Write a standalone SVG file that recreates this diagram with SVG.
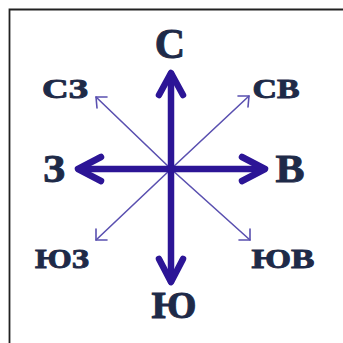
<svg xmlns="http://www.w3.org/2000/svg" width="343" height="343" viewBox="0 0 343 343">
<style>
.thick{stroke:#2c1596;stroke-width:6.5;fill:none;stroke-linecap:round;stroke-linejoin:round}
.thin{stroke:#5a50b0;stroke-width:1.6;fill:none;stroke-linecap:round;stroke-linejoin:round}
.lbl{font-family:"Liberation Serif",serif;font-weight:bold;fill:#1e2a48;stroke:#1e2a48;stroke-width:0.9;text-anchor:middle}
</style>
<rect width="343" height="343" fill="#ffffff"/>
<path d="M9.5 343V9.5H343" fill="none" stroke="#222" stroke-width="1.8"/>
<g id="connectors">
<line class="thin" x1="171" y1="169" x2="96" y2="97"/>
<polyline class="thin" points="97,108 96,97 107,97"/>
<line class="thin" x1="171" y1="169" x2="249" y2="96"/>
<polyline class="thin" points="238,96 249,96 248,107"/>
<line class="thin" x1="171" y1="169" x2="96" y2="240"/>
<polyline class="thin" points="96,229 96,240 107,240"/>
<line class="thin" x1="171" y1="169" x2="250" y2="240"/>
<polyline class="thin" points="250,229 250,240 239,240"/>
<line class="thick" x1="171" y1="169" x2="171" y2="74"/>
<polyline class="thick" points="159,95 171,73 183,95"/>
<line class="thick" x1="171" y1="169" x2="171" y2="281"/>
<polyline class="thick" points="159,259 171,282 183,259"/>
<line class="thick" x1="171" y1="169" x2="79" y2="169"/>
<polyline class="thick" points="101,157 78,169 101,181"/>
<line class="thick" x1="171" y1="169" x2="264" y2="169"/>
<polyline class="thick" points="242,157 265,169 242,181"/>
<circle cx="171" cy="169" r="4" fill="#2c1596"/>
</g>
<g id="n"><text class="lbl" x="170" y="58" font-size="42">С</text></g>
<g id="s"><text class="lbl" x="174" y="318" font-size="38" textLength="45" lengthAdjust="spacingAndGlyphs">Ю</text></g>
<g id="w"><text class="lbl" x="54" y="182" font-size="40" textLength="22" lengthAdjust="spacingAndGlyphs">З</text></g>
<g id="e"><text class="lbl" x="290" y="182" font-size="40" textLength="29" lengthAdjust="spacingAndGlyphs">В</text></g>
<g id="nw"><text class="lbl" x="65" y="98" font-size="27" textLength="46" lengthAdjust="spacingAndGlyphs">СЗ</text></g>
<g id="ne"><text class="lbl" x="276" y="98" font-size="27" textLength="47" lengthAdjust="spacingAndGlyphs">СВ</text></g>
<g id="sw"><text class="lbl" x="62" y="268" font-size="28" textLength="54" lengthAdjust="spacingAndGlyphs">ЮЗ</text></g>
<g id="se"><text class="lbl" x="283" y="268" font-size="28" textLength="63" lengthAdjust="spacingAndGlyphs">ЮВ</text></g>
</svg>
